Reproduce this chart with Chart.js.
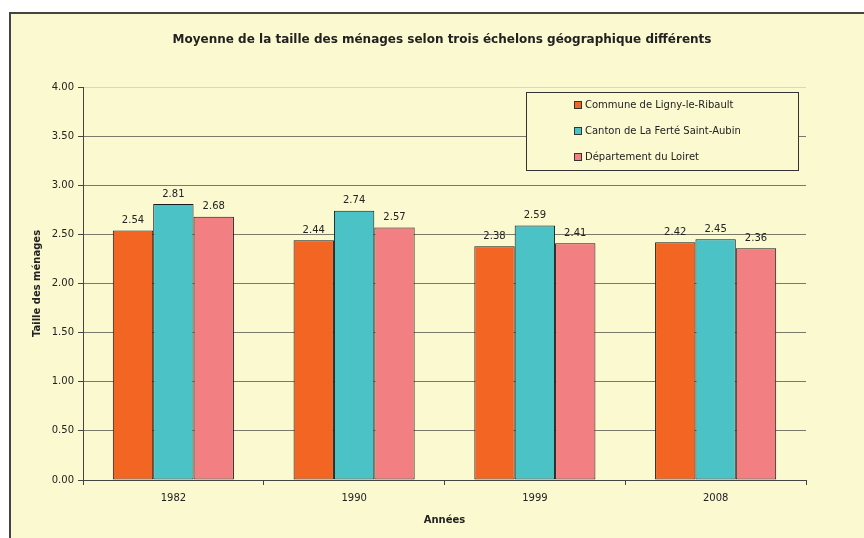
<!DOCTYPE html>
<html>
<head>
<meta charset="utf-8">
<script src="https://cdn.jsdelivr.net/npm/chart.js@4.4.1/dist/chart.umd.min.js"></script>
<style>
  html, body { margin: 0; padding: 0; background: #ffffff; }
  #wrap { width: 864px; height: 538px; }
</style>
</head>
<body>
<div id="wrap"><canvas id="myChart" width="864" height="538"></canvas></div>
<script>
var annees = ['1982', '1990', '1999', '2008']
var commune = [2.54, 2.44, 2.38, 2.42]
var canton = [2.81, 2.74, 2.59, 2.45]
var departement = [2.68, 2.57, 2.41, 2.36]
var noms = ['Commune de Ligny-le-Ribault', 'Canton de La Ferté Saint-Aubin', 'Département du Loiret']
var couleurs = ['#F26522', '#4BC2C6', '#F28083']
var titre = 'Moyenne de la taille des ménages selon trois échelons géographique différents'

var fond = '#FBF9D0'
var police = 'DejaVu Sans'

// cadre, fond crème et titre
const cadre = {
  id: 'cadre',
  beforeDraw(chart) {
    const c = chart.ctx;
    c.save();
    c.fillStyle = '#ffffff';
    c.fillRect(0, 0, chart.width, chart.height);
    c.fillStyle = fond;
    c.fillRect(10, 13, chart.width, chart.height);
    c.strokeStyle = '#444444';
    c.lineWidth = 2;
    c.strokeRect(10, 13, chart.width + 20, chart.height + 20);
    c.font = 'bold 12px ' + police;
    c.fillStyle = '#222';
    c.textAlign = 'center';
    c.textBaseline = 'middle';
    c.fillText(titre, 442, 40);
    c.restore();
  }
}

// valeurs au-dessus des barres
const valeurs = {
  id: 'valeurs',
  afterDatasetsDraw(chart) {
    const c = chart.ctx;
    c.save();
    c.font = '10px ' + police;
    c.fillStyle = '#222';
    c.textAlign = 'center';
    c.textBaseline = 'bottom';
    chart.data.datasets.forEach((ds, i) => {
      chart.getDatasetMeta(i).data.forEach((bar, j) => {
        c.fillText(ds.data[j].toFixed(2), bar.x, bar.y - 5);
      });
    });
    c.restore();
  }
}

// légende encadrée dans la zone du graphique
const legende = {
  id: 'legende',
  afterDraw(chart) {
    const c = chart.ctx;
    const x = 526, y = 92, w = 272, h = 78;
    c.save();
    c.fillStyle = fond;
    c.fillRect(x, y, w, h);
    c.strokeStyle = '#333';
    c.lineWidth = 1;
    c.strokeRect(x + 0.5, y + 0.5, w, h);
    c.font = '10px ' + police;
    c.textBaseline = 'middle';
    chart.data.datasets.forEach((ds, i) => {
      const ly = y + 13 + i * 26;
      c.fillStyle = ds.backgroundColor;
      c.fillRect(574, ly - 4, 8, 8);
      c.strokeStyle = '#333';
      c.strokeRect(574.5, ly - 3.5, 7, 7);
      c.fillStyle = '#222';
      c.fillText(ds.label, 585, ly);
    });
    c.restore();
  }
}

const dados = {
  labels: annees,
  datasets: [
    { label: noms[0], data: commune, backgroundColor: couleurs[0] },
    { label: noms[1], data: canton, backgroundColor: couleurs[1] },
    { label: noms[2], data: departement, backgroundColor: couleurs[2] }
  ].map(d => Object.assign(d, { borderColor: '#1a1a1a', borderWidth: 1, borderSkipped: false, categoryPercentage: 0.67, barPercentage: 1 }))
}

var config = {
  type: 'bar',
  data: dados,
  plugins: [cadre, valeurs, legende],
  options: {
    responsive: false,
    animation: false,
    layout: { padding: { left: 0, right: 58, top: 87, bottom: 0 } },
    scales: {
      x: {
        grid: { drawOnChartArea: false, drawTicks: true, tickLength: 5, tickColor: '#444', offset: true },
        border: { color: '#444', width: 1 },
        ticks: { color: '#222', font: { family: police, size: 10 }, padding: 7 },
        title: { display: true, text: 'Années', color: '#222', font: { family: police, size: 10, weight: 'bold' }, padding: { bottom: 12 } },
        afterFit(s) { s.height = 58 }
      },
      y: {
        min: 0,
        max: 4,
        ticks: { stepSize: 0.5, color: '#222', font: { family: police, size: 10 }, padding: 4, callback: v => v.toFixed(2) },
        grid: { color: ctx => ctx.tick && ctx.tick.value === 4 ? '#DCD9B0' : '#7a7a6a', tickColor: '#444', tickLength: 5 },
        border: { color: '#444', width: 1 },
        title: { display: true, text: 'Taille des ménages', color: '#222', font: { family: police, size: 10, weight: 'bold' }, padding: { top: 31 } },
        afterFit(s) { s.width = 83 }
      }
    },
    plugins: {
      legend: { display: false },
      tooltip: { enabled: false },
      title: { display: false }
    }
  }
}

window.myChart = new Chart(document.getElementById('myChart'), config)
</script>
</body>
</html>
